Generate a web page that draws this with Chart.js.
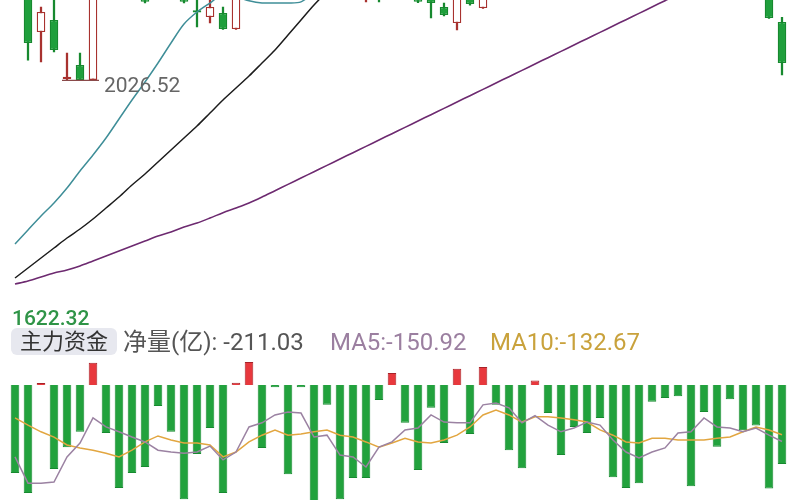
<!DOCTYPE html>
<html><head><meta charset="utf-8">
<script src="https://cdn.jsdelivr.net/npm/chart.js@4.4.1/dist/chart.umd.min.js"></script>
<style>
html,body{margin:0;padding:0;background:#fff;width:800px;height:500px;overflow:hidden;font-family:Roboto,"Noto Sans CJK SC",sans-serif;}
#top{position:absolute;left:0;top:0;width:800px;height:305px;}
#bot{position:absolute;left:0;top:355px;width:800px;height:145px;}
.t{position:absolute;white-space:nowrap;font-size:24px;line-height:28px;}
</style></head><body>
<div id="top"><canvas id="c1"></canvas></div>
<div id="bot"><canvas id="c2"></canvas></div>
<div class="t" style="left:12px;top:304px;color:#2f9447;font-size:21px;font-weight:500;">1622.32</div>
<div class="t" style="left:11px;top:328px;width:106px;height:27px;line-height:27px;background:#e7e8ef;border-radius:6px;text-align:center;color:#333;font-size:22px;">主力资金</div>
<div class="t" style="left:123px;top:328px;color:#555;">净量(亿): -211.03</div>
<div class="t" style="left:330px;top:328px;color:#9b7fa0;">MA5:-150.92</div>
<div class="t" style="left:490px;top:328px;color:#c9a23c;">MA10:-132.67</div>
<script>
const days = ['1','2','3','4','5','6','7','8','9','10','11','12','13','14','15','16','17','18','19','20',
'21','22','23','24','25','26','27','28','29','30','31','32','33','34','35','36','37','38','39','40',
'41','42','43','44','45','46','47','48','49','50','51','52','53','54','55','56','57','58','59','60'];

const open  = [2205,2198,2113.7,2135.3,2029,2054.3,2027.5,2192,2222,2205,2190,2176,2208,2195,2153,2140.7,2147.9,2119.1,2198,2218,
2202,2232,2218,2240,2225,2248,2212,2190,2205,2182,2218,2192,2178,2158.7,2129.9,2188,2156.9,2208,2226,2240,
2232,2262,2252,2238,2270,2262,2295,2278,2258,2280,2305,2322,2315,2290,2310,2288,2270,2255,2240,2131.7];
const high  = [2230,2205,2158.7,2180,2075.9,2075.9,2200,2230,2240,2225,2205,2215,2230,2200,2182,2176,2158.7,2205,2225,2232,
2240,2250,2245,2262,2255,2260,2220,2212,2215,2225,2228,2198,2185,2165.9,2195,2192,2215,2232,2248,2262,
2270,2280,2268,2275,2290,2300,2310,2290,2285,2312,2330,2340,2325,2318,2322,2300,2285,2272,2248,2140];
const low   = [2190,2063,2059.7,2077.7,2026.52,2027,2026.9,2185,2195,2180,2166,2174,2190,2166,2123,2130,2118.2,2118.5,2185,2195,
2192,2210,2205,2215,2215,2205,2180,2168,2168,2178,2185,2166.5,2138.9,2142.5,2117.3,2162,2156,2195,2210,2225,
2225,2245,2230,2232,2255,2258,2270,2250,2240,2275,2295,2308,2280,2285,2280,2262,2248,2235,2138,2036.3];
const close = [2198,2094,2149.7,2081.3,2033,2027.3,2192,2222,2205,2190,2168,2208,2195,2168,2149,2158.7,2119.1,2198,2218,2202,
2232,2218,2240,2225,2248,2212,2190,2205,2182,2218,2192,2168,2165.9,2144.3,2188,2164.1,2208,2226,2240,2232,
2262,2252,2238,2270,2262,2295,2278,2258,2280,2305,2322,2315,2290,2310,2288,2270,2255,2242,2138.9,2057.9];

const priceMA5  = [1732.1,1757.3,1782.5,1805.9,1832.9,1863.5,1892.3,1922.9,1957.1,1991.3,2023.7,2057.9,2093.9,2128.1,2149.7,2165.9,2182,2177,2170,2166,
2166,2166,2168,2185,2200,2212,2222,2228,2226,2220,2212,2200,2195,2190,2188,2192,2198,2206,2215,2225,
2235,2245,2255,2262,2268,2275,2282,2288,2295,2300,2304,2306,2304,2298,2290,2280,2268,2250,2230,2205];
const priceMA10 = [1670.9,1688.9,1706.9,1724.9,1742.9,1759.1,1777.1,1796.9,1816.7,1838.3,1858.1,1879.7,1901.3,1922.9,1944.5,1967.9,1991.3,2012.9,2034.5,2057.9,
2081.3,2108.3,2135.3,2162.3,2185.7,2202,2214,2222,2226,2228,2228,2226,2222,2218,2214,2212,2210,2210,2212,2216,
2222,2228,2235,2242,2250,2258,2266,2272,2278,2283,2287,2290,2292,2292,2290,2286,2280,2272,2262,2250];
const priceMA30 = [1660.1,1665.5,1672.7,1679.9,1685.3,1692.5,1701.5,1710.5,1719.5,1728.5,1737.5,1746.5,1753.7,1762.7,1769.9,1778.9,1788.5,1797,1806,1816.7,
1828.1,1839.4,1850.9,1862.2,1873.6,1885.1,1896.5,1907.8,1919.3,1930.7,1942,1953.5,1964.9,1976.2,1987.7,1999.1,2010.4,2021.9,2033.3,2044.6,
2056.1,2067.5,2078.8,2090.3,2101.7,2113,2124.5,2135.9,2147.2,2158.7,2170.1,2181.5,2192,2202,2211,2219,2226,2232,2237,2240];

const flow = [-235,-288,5,-224,-166,-125,59,-128,-275,-235,-219,-56,-125,-305,-184,-115,-288,6,61,-168,
-6,-238,-6,-315,-53,-305,-248,-248,-40,32,-101,-227,-61,-155,43,-131,48,-53,-174,-222,
12,-75,-187,-112,-128,-88,-246,-275,-262,-45,-35,-30,-270,-72,-165.1,-38,-121,-108,-276.57,-211.03];
const flowMA5 = [-192,-262,-262,-259,-192,-155,-88,-112,-125,-139,-152,-174,-179,-182,-179,-163,-200,-179,-112,-101,
-80,-72,-75,-139,-134,-187,-192,-219,-166,-152,-120,-115,-80,-99,-101,-101,-53,-48,-61,-101,
-82,-107,-125,-115,-99,-107,-147,-179,-195,-179,-168,-128,-125,-88,-112,-115,-125,-115,-134,-150.92];
const flowMA10 = [-88,-107,-125,-139,-160,-168,-174,-182,-192,-174,-152,-136,-147,-155,-155,-160,-192,-179,-152,-134,
-120,-134,-131,-125,-120,-134,-139,-152,-166,-155,-142,-152,-155,-147,-134,-112,-80,-67,-80,-99,
-85,-85,-88,-93,-99,-120,-134,-152,-155,-142,-142,-147,-147,-147,-142,-139,-125,-112,-120,-132.67];

const lowLabel = '2026.52';
const lowValue = 2026.52;

const UP = '#a8322f', DOWN = '#1f9f3c', DOWN_B = '#17892f';
const isUp = open.map((o,i)=>close[i]>=o);
const bodies = open.map((o,i)=>[o, close[i]]);
const wicks = low.map((l,i)=>[l, high[i]]);

const lowMarker = {
  id:'lowMarker',
  afterDatasetsDraw(chart){
    const xs = chart.scales.x, ys = chart.scales.y, ctx = chart.ctx;
    const y = ys.getPixelForValue(lowValue);
    const x0 = xs.getPixelForValue(4) - 5, x1 = xs.getPixelForValue(6) + 6;
    ctx.save();
    ctx.strokeStyle = '#8a4a4a'; ctx.lineWidth = 1.2;
    ctx.beginPath(); ctx.moveTo(x0, y); ctx.lineTo(x1, y); ctx.stroke();
    ctx.fillStyle = '#666'; ctx.font = '21px Roboto, sans-serif';
    ctx.textBaseline = 'middle'; ctx.textAlign = 'left';
    ctx.fillText(lowLabel, x1 + 5, y + 6);
    ctx.restore();
  }
};

const baseOpts = (ymin, ymax) => ({
  responsive:true, maintainAspectRatio:false, animation:false,
  layout:{padding:{left:8.5,right:11.5,top:0,bottom:0}},
  plugins:{legend:{display:false}, tooltip:{enabled:false}},
  scales:{x:{display:false}, y:{display:false, min:ymin, max:ymax}}
});

new Chart(document.getElementById('c1'), {
  type:'bar',
  data:{labels:days, datasets:[
    {type:'line', data:priceMA5, borderColor:'#3f8e98', borderWidth:1.5, pointRadius:0, tension:0.3, order:0},
    {type:'line', data:priceMA10, borderColor:'#1c1c1c', borderWidth:1.5, pointRadius:0, tension:0.3, order:0},
    {type:'line', data:priceMA30, borderColor:'#6d2a70', borderWidth:1.6, pointRadius:0, tension:0.3, order:0},
    {data:bodies, backgroundColor:isUp.map(u=>u?'#ffffff':DOWN), borderColor:isUp.map(u=>u?UP:DOWN_B),
     borderWidth:1.3, borderSkipped:false, barPercentage:0.66, categoryPercentage:1, grouped:false, order:1},
    {data:wicks, backgroundColor:isUp.map(u=>u?UP:DOWN_B), barThickness:1.6, grouped:false, order:2}
  ]},
  options:baseOpts(1622.32, 2171.32),
  plugins:[lowMarker]
});

new Chart(document.getElementById('c2'), {
  type:'bar',
  data:{labels:days, datasets:[
    {type:'line', data:flowMA5, borderColor:'#9b82a2', borderWidth:1.5, pointRadius:0, order:0},
    {type:'line', data:flowMA10, borderColor:'#e2a640', borderWidth:1.5, pointRadius:0, order:0},
    {data:flow, backgroundColor:flow.map(v=>v>=0?'#e8383d':'#22a23d'), borderColor:flow.map(v=>v>=0?'#a82228':'#178a30'),
     borderWidth:1, barPercentage:0.66, categoryPercentage:1, order:1}
  ]},
  options:baseOpts(-307, 80)
});
</script>
</body></html>
